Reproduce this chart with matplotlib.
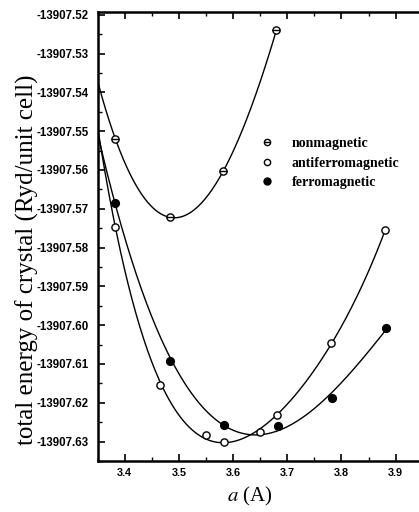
import numpy as np
import matplotlib
matplotlib.use("Agg")
import matplotlib.pyplot as plt
from matplotlib.ticker import MultipleLocator, FormatStrFormatter
from matplotlib.lines import Line2D

plt.rcParams['mathtext.fontset'] = 'stix'

# ---- data ----
nm_a = [3.383, 3.483, 3.582, 3.680]
nm_E = [-13907.5520, -13907.5722, -13907.5603, -13907.5240]

afm_a = [3.383, 3.466, 3.550, 3.584, 3.649, 3.682, 3.781, 3.881]
afm_E = [-13907.5746, -13907.6155, -13907.6284, -13907.6300,
         -13907.6275, -13907.6232, -13907.6045, -13907.5755]

fm_a = [3.383, 3.484, 3.584, 3.683, 3.783, 3.883]
fm_E = [-13907.5686, -13907.6093, -13907.6256, -13907.6259,
        -13907.6187, -13907.6006]

labels = ['nonmagnetic', 'antiferromagnetic', 'ferromagnetic']
xlim = (3.35, 3.956)
ylim = (-13907.635, -13907.5193)

W, H = 419, 512
L, R, T, B = 97.5, 426.0, 12.0, 461.0
fig = plt.figure(figsize=(W / 100, H / 100), dpi=100)
ax = fig.add_axes([L / W, 1 - B / H, (R - L) / W, (B - T) / H])

E0 = -13907.6


def fit_curve(a, E, deg, x0, x1):
    a = np.asarray(a)
    E = np.asarray(E) - E0
    c = np.polyfit(a, E, deg)
    xs = np.linspace(x0, x1, 300)
    return xs, np.polyval(c, xs) + E0


xs, ys = fit_curve(nm_a, nm_E, 3, xlim[0], nm_a[-1])
ax.plot(xs, ys, color='black', lw=1.0)
xs, ys = fit_curve(afm_a, afm_E, 4, xlim[0], afm_a[-1])
ax.plot(xs, ys, color='black', lw=1.0)
xs, ys = fit_curve(fm_a, fm_E, 3, xlim[0], fm_a[-1])
ax.plot(xs, ys, color='black', lw=1.0)

ms = 5.2
ax.plot(nm_a, nm_E, 'o', mfc='white', mec='black', mew=1.0, ms=ms, zorder=3)
ax.plot(nm_a, nm_E, '_', color='black', mew=1.0, ms=ms, zorder=4)
ax.plot(afm_a, afm_E, 'o', mfc='white', mec='black', mew=1.0, ms=ms, zorder=3)
ax.plot(fm_a, fm_E, 'o', mfc='black', mec='black', mew=1.0, ms=ms + 0.4, zorder=3)

ax.set_xlim(*xlim)
ax.set_ylim(*ylim)

ax.xaxis.set_major_locator(MultipleLocator(0.1))
ax.xaxis.set_minor_locator(MultipleLocator(0.05))
ax.yaxis.set_major_locator(MultipleLocator(0.01))
ax.yaxis.set_minor_locator(MultipleLocator(0.005))
ax.xaxis.set_major_formatter(FormatStrFormatter('%.1f'))
ax.yaxis.set_major_formatter(FormatStrFormatter('%.2f'))

ax.tick_params(which='both', direction='in', top=True, right=True)
ax.tick_params(which='major', length=5, width=1.2)
ax.tick_params(which='minor', length=3, width=1.0)
ax.tick_params(axis='y', pad=6.5)
ax.tick_params(axis='x', pad=5)
for lab in ax.get_yticklabels():
    lab.set_fontfamily('Liberation Sans')
    lab.set_fontweight('bold')
    lab.set_fontsize(8.3)
for lab in ax.get_xticklabels():
    lab.set_fontfamily('Liberation Sans')
    lab.set_fontweight('bold')
    lab.set_fontsize(7.8)

for sp in ax.spines.values():
    sp.set_linewidth(1.8)

fig.text(27 / W, 1 - 260 / H, 'total energy of crystal (Ryd/unit cell)',
         rotation=90, ha='center', va='center',
         family='Liberation Serif', fontsize=18)
fig.text(250 / W, 1 - 496 / H, r'$a$ (A)', ha='center', va='center',
         family='Liberation Serif', fontsize=15)

h_nm = (Line2D([], [], ls='none', marker='o', mfc='white', mec='black', mew=1.0, ms=4.5),
        Line2D([], [], ls='none', marker='_', color='black', mew=1.0, ms=4.5))
h_afm = Line2D([], [], ls='none', marker='o', mfc='white', mec='black', mew=1.0, ms=4.5)
h_fm = Line2D([], [], ls='none', marker='o', mfc='black', mec='black', mew=1.0, ms=5)
ax.legend([h_nm, h_afm, h_fm], labels, loc='upper left',
          bbox_to_anchor=((260 - L) / (R - L), (B - 137) / (B - T)),
          frameon=False, handlelength=1.0, handletextpad=1.3, labelspacing=0.47,
          borderpad=0, borderaxespad=0,
          prop={'family': 'Liberation Serif', 'weight': 'bold', 'size': 10})

fig.savefig('out.png', dpi=100)
